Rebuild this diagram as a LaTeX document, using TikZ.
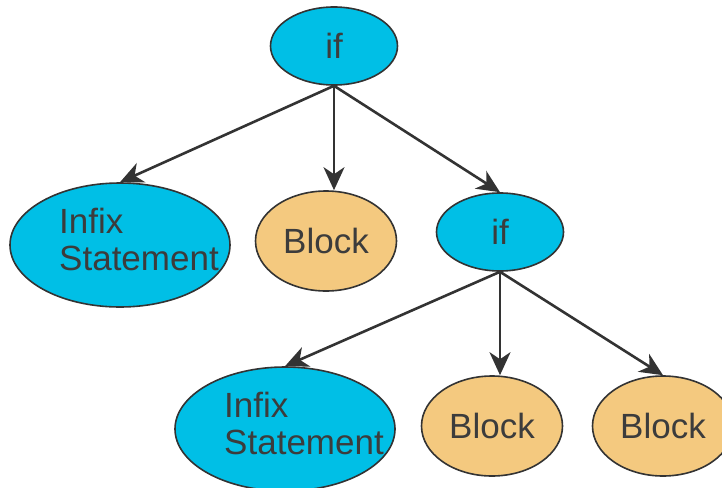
\documentclass[tikz,border=0pt]{standalone}
\usepackage{fontspec}
\setmainfont{Liberation Sans}
\usetikzlibrary{shapes.geometric, arrows.meta}
\definecolor{ifblue}{HTML}{00BFE6}
\definecolor{blockorange}{HTML}{F4C97F}
\definecolor{edgegray}{HTML}{333333}
\definecolor{textgray}{HTML}{3C3C3C}

\begin{document}
\begin{tikzpicture}[x=1pt, y=-1pt]
	% styles
	\tikzstyle{base} = [ellipse, draw=edgegray, line width=1.6pt, inner sep=0pt, text=textgray, font=\fontsize{35}{37}\selectfont]
	\tikzstyle{ifnode} = [base, fill=ifblue, minimum width=127pt, minimum height=78pt]
	\tikzstyle{block} = [base, fill=blockorange, minimum width=141pt, minimum height=100pt]
	\tikzstyle{infix} = [base, fill=ifblue, minimum width=220pt, minimum height=124pt]
	\tikzstyle{lbl} = [inner sep=0pt, align=left, text=textgray, font=\fontsize{35}{37}\selectfont, xshift=19pt, yshift=6pt]
	\tikzstyle{arrow} = [line width=2.6pt, draw=edgegray, -{Stealth[length=23pt, width=21pt, inset=7pt]}]
	
	\useasboundingbox (0,0) rectangle (722,487);
	
	% nodes
	\node [ifnode] (iftop) at (334,46) {if};
	\node [infix, label={[lbl]center:{Infix\\Statement}}] (infixA) at (120,245) {};
	\node [block] (blockA) at (326,241) {Block};
	\node [ifnode] (ifmid) at (500,232) {if};
	\node [infix, label={[lbl]center:{Infix\\Statement}}] (infixB) at (285,429) {};
	\node [block] (blockB) at (492,426) {Block};
	\node [block] (blockC) at (663,426) {Block};
	
	% arrows
	\draw [arrow] (iftop.south) -- (infixA.north);
	\draw [arrow] (iftop.south) -- (iftop.south |- blockA.north);
	\draw [arrow] (iftop.south) -- (ifmid.north);
	\draw [arrow] (ifmid.south) -- (infixB.north);
	\draw [arrow] (ifmid.south) -- (ifmid.south |- blockB.north);
	\draw [arrow] (ifmid.south) -- (blockC.north);
\end{tikzpicture}
\end{document}
